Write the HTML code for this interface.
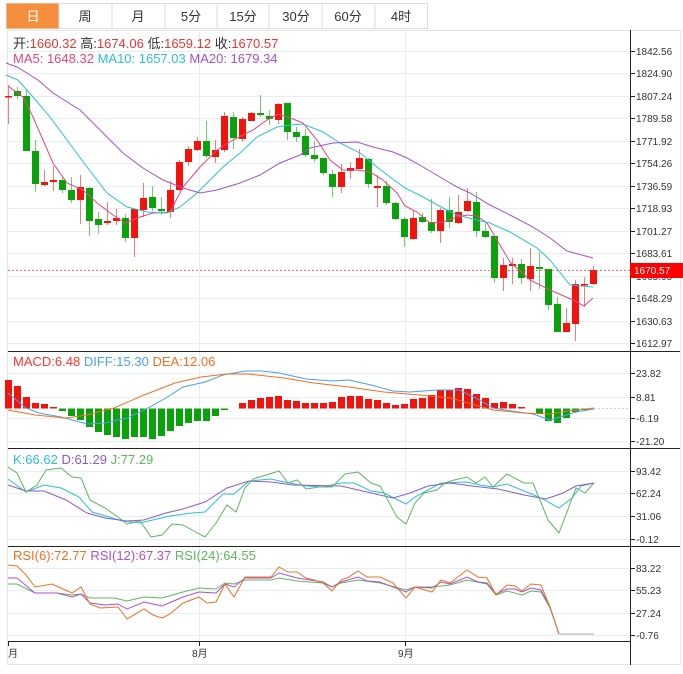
<!DOCTYPE html>
<html><head><meta charset="utf-8"><style>
html,body{margin:0;padding:0;background:#fff;width:683px;height:674px;overflow:hidden}
svg{display:block;font-family:"Liberation Sans","Noto Sans CJK SC",sans-serif}
</style></head><body>
<svg id="s" width="683" height="674" xmlns="http://www.w3.org/2000/svg">
<rect x="0" y="0" width="683" height="674" fill="#fff"/>
<!-- tabs -->
<rect x="6.5" y="3.5" width="421" height="25" fill="#fff" stroke="#ddd"/>
<rect x="6.5" y="3.5" width="52" height="25" fill="#f58f3e"/>
<g stroke="#ddd"><line x1="59" y1="3" x2="59" y2="28"/><line x1="112" y1="3" x2="112" y2="28"/><line x1="165" y1="3" x2="165" y2="28"/><line x1="217" y1="3" x2="217" y2="28"/><line x1="269" y1="3" x2="269" y2="28"/><line x1="322" y1="3" x2="322" y2="28"/><line x1="375" y1="3" x2="375" y2="28"/></g>
<g font-size="13" text-anchor="middle" fill="#333">
<text x="33" y="21" fill="#fff">日</text><text x="85" y="21">周</text><text x="138" y="21">月</text><text x="191" y="21">5分</text><text x="243" y="21">15分</text><text x="296" y="21">30分</text><text x="348" y="21">60分</text><text x="401" y="21">4时</text>
</g>
<!-- frame -->
<rect x="7.5" y="30.5" width="673" height="634" fill="none" stroke="#e4e4e4"/>
<g id="grid" stroke="#e6eef3" stroke-width="1"></g>
<line x1="630.5" y1="30" x2="630.5" y2="665" stroke="#222"/>
<g stroke="#222"><line x1="8" y1="351.5" x2="680" y2="351.5"/><line x1="8" y1="448.5" x2="680" y2="448.5"/><line x1="8" y1="546.5" x2="680" y2="546.5"/><line x1="8" y1="641.5" x2="630" y2="641.5"/></g>
<g id="labels" font-size="10" fill="#333"></g>
<g id="cand"></g>
<g id="lines" fill="none" stroke-width="1"></g>
<line x1="8" y1="270.5" x2="630" y2="270.5" stroke="#f33" stroke-dasharray="2,2" opacity="0.7"/>
<rect x="630" y="263" width="53" height="15" fill="#f00"/>
<text x="634" y="274" font-size="10" fill="#fff">1670.57</text>
<g font-size="13">
<text x="13" y="48"><tspan fill="#333">开:</tspan><tspan fill="#e33">1660.32 </tspan><tspan fill="#333">高:</tspan><tspan fill="#e33">1674.06 </tspan><tspan fill="#333">低:</tspan><tspan fill="#e33">1659.12 </tspan><tspan fill="#333">收:</tspan><tspan fill="#e33">1670.57</tspan></text>
<text x="13" y="63"><tspan fill="#e8447a">MA5: 1648.32  </tspan><tspan fill="#2bbfd6">MA10: 1657.03  </tspan><tspan fill="#a550c8">MA20: 1679.34</tspan></text>
<text x="13" y="366"><tspan fill="#f33">MACD:6.48  </tspan><tspan fill="#4a9ff0">DIFF:15.30  </tspan><tspan fill="#f07020">DEA:12.06</tspan></text>
<text x="13" y="464"><tspan fill="#2bbfd6">K:66.62  </tspan><tspan fill="#8a5ad0">D:61.29  </tspan><tspan fill="#5cb85c">J:77.29</tspan></text>
<text x="13" y="560"><tspan fill="#f07020">RSI(6):72.77  </tspan><tspan fill="#b04ed0">RSI(12):67.37  </tspan><tspan fill="#5cb85c">RSI(24):64.55</tspan></text>
</g>
<g font-size="10" fill="#333"><text x="8" y="657">月</text><text x="192" y="657">8月</text><text x="398" y="657">9月</text></g>
<g stroke="#222"><line x1="8.5" y1="641" x2="8.5" y2="646"/><line x1="199.5" y1="641" x2="199.5" y2="646"/><line x1="405.5" y1="641" x2="405.5" y2="646"/></g>
</svg>
<script>
var NS="http://www.w3.org/2000/svg";
function el(p,t,a){var e=document.createElementNS(NS,t);for(var k in a)e.setAttribute(k,a[k]);document.getElementById(p).appendChild(e);return e;}
var gl=[[51,"1842.56"],[73,"1824.90"],[96,"1807.24"],[118,"1789.58"],[141,"1771.92"],[163,"1754.26"],[186,"1736.59"],[208,"1718.93"],[231,"1701.27"],[253,"1683.61"],[276,"1665.95"],[298,"1648.29"],[321,"1630.63"],[343,"1612.97"],
[373,"23.82"],[397,"8.81"],[418,"-6.19"],[441,"-21.20"],[471,"93.42"],[493,"62.24"],[516,"31.06"],[539,"-0.12"],[568,"83.22"],[590,"55.23"],[613,"27.24"],[635,"-0.76"]];
gl.forEach(function(g){el("grid","line",{x1:8,x2:630,y1:g[0]+.5,y2:g[0]+.5});el("grid","line",{x1:630,x2:635,y1:g[0]+.5,y2:g[0]+.5,stroke:"#222"});var t=el("labels","text",{x:636,y:g[0]+4});t.textContent=g[1];});
[199.5,405.5].forEach(function(x){el("grid","line",{x1:x,x2:x,y1:30,y2:641});});
var C=[[96,96,85,124,'r'],[91,96,87,99,'g'],[96,151,90,151,'g'],[151,184,140,192,'g'],[182,185,170,186,'r'],[180,182,166,191,'r'],[180,190,176,193,'g'],[190,200,177,203,'g'],[187,200,175,224,'r'],[188,221,187,236,'g'],[219,225,212,234,'g'],[221,223,202,225,'r'],[218,221,209,225,'r'],[218,238,214,242,'g'],[209,238,209,257,'r'],[198,210,183,217,'r'],[197,208,186,211,'g'],[209,211,197,215,'g'],[190,212,181,218,'r'],[162,190,160,191,'r'],[149,162,146,166,'r'],[141,150,137,151,'r'],[141,156,121,158,'g'],[150,157,140,163,'r'],[116,150,112,152,'r'],[117,138,112,149,'g'],[119,139,117,142,'r'],[113,121,112,121,'r'],[113,115,95,117,'g'],[116,119,110,125,'g'],[104,120,103,124,'r'],[103,132,103,140,'g'],[132,137,127,142,'g'],[136,155,129,157,'g'],[155,159,141,162,'g'],[158,173,158,175,'g'],[174,187,170,197,'g'],[172,187,164,193,'r'],[168,171,162,179,'r'],[158,169,149,169,'r'],[159,184,158,188,'g'],[186,188,175,207,'r'],[186,203,181,205,'g'],[203,219,202,220,'g'],[219,237,217,247,'g'],[218,239,211,240,'r'],[217,222,213,223,'g'],[222,231,199,233,'g'],[210,231,208,243,'r'],[210,222,197,228,'g'],[212,223,195,224,'r'],[201,211,188,212,'r'],[202,231,192,237,'g'],[231,237,223,238,'g'],[236,278,236,283,'g'],[265,278,258,291,'r'],[264,266,258,284,'r'],[264,278,259,284,'g'],[266,279,248,291,'r'],[267,269,252,289,'g'],[269,305,269,310,'g'],[304,332,297,332,'g'],[323,332,308,332,'r'],[284,324,280,341,'r'],[284,285,277,307,'r'],[270,284,266,285,'r']];
C.forEach(function(c,i){var x=8.5+9*i;var col=c[4]=='r'?'#f4120c':'#0aa20a';var wc=c[4]=='r'?'#f57a78':'#6fcc6f';
el("cand","line",{x1:x,x2:x,y1:c[2],y2:c[3],stroke:wc});var h=Math.max(c[1]-c[0],1.5);el("cand","rect",{x:x-3.5,y:c[0],width:7,height:h,fill:col});
var m=[380,386,397,403,404,407,411,416,420,427,432,435,437,439,437,437,439,436,431,426,423,421,421,416,410,408,403,400,398,397,396,400,401,403,403,403,402,397,396,396,399,400,403,405,404,399,398,395,390,390,388,389,394,398,403,402,404,407,408,414,421,423,418,412,410,409][i];
var z=408.5;if(Math.abs(m-z)>0.6)el("cand","rect",{x:x-3.5,y:Math.min(m,z),width:7,height:Math.abs(m-z),fill:m<z?'#f4120c':'#0aa20a'});});
el("cand","line",{x1:594,x2:630,y1:408.5,y2:408.5,stroke:"#bde",'stroke-dasharray':"2,2"});
function pl(pts,col){el("lines","polyline",{points:pts,stroke:col});}
pl("8,86 23,97 33,117 43,140 53,163 67,183 83,190 97,203 113,215 125,223 140,217 153,213 170,212 183,187 200,167 217,150 233,140 253,130 267,120 278,114 293,119 303,123 317,140 330,160 343,170 357,170 370,172 383,180 397,193 405,206 417,212 430,223 443,222 457,217 467,215 477,216 487,223 497,240 510,262 530,280 550,290 573,300 584,306 593,298","#e8447a");
pl("6,75 18,80 33,97 50,117 67,140 87,167 107,193 127,207 147,212 167,213 180,207 197,193 210,180 223,167 240,153 257,137 277,127 290,125 303,124 323,132 340,143 360,153 377,167 390,177 405,188 423,197 443,208 457,215 477,220 490,223 510,232 537,248 550,260 570,285 593,287","#2bbfd6");
pl("6,63 17,67 38,80 53,93 80,110 100,130 123,153 143,168 163,180 183,188 200,193 217,190 240,183 260,175 280,163 300,155 310,148 333,143 357,142 373,147 393,152 407,158 423,167 440,177 457,187 470,193 490,205 510,215 533,227 550,238 567,251 593,258","#a550c8");
pl("8,393 26,408 39,413 61,417 87,424 105,423 127,418 148,408 166,398 183,387 205,382 223,375 245,371 262,371 279,373 306,379 332,381 349,380 371,385 393,391 410,392 437,390 459,390 476,398 493,408 511,411 533,414 550,420 563,416 576,412 594,409","#4a9ff0");
pl("8,410 35,415 66,418 87,415 114,408 144,395 175,383 201,377 227,374 249,374 284,378 314,383 349,387 384,392 419,395 450,398 472,404 493,410 524,413 550,414 568,411 594,408","#f07020");
pl("8,479 26,492 44,485 61,488 79,497 92,512 109,517 122,521 140,523 157,519 170,516 192,513 205,512 223,494 234,494 249,481 271,479 284,482 306,486 323,487 341,483 354,483 371,491 384,493 406,504 415,497 441,483 467,482 480,485 493,487 507,484 524,491 541,498 559,508 572,498 581,486 594,483","#2bbfd6");
pl("8,485 26,491 44,491 66,500 87,513 105,518 127,521 144,520 166,513 183,509 205,502 227,488 249,481 271,482 293,485 341,486 367,492 393,498 410,493 428,486 450,483 472,486 498,489 524,495 546,499 563,493 576,486 594,483","#8a5ad0");
pl("8,467 17,473 26,492 37,485 46,470 61,468 72,477 81,478 90,500 105,508 118,517 127,524 140,521 151,537 162,535 172,524 183,525 192,530 205,537 216,523 227,505 236,512 245,488 253,479 279,471 288,483 297,480 306,489 319,487 332,487 345,474 358,472 371,483 380,486 397,517 406,524 415,503 424,493 437,490 445,483 454,480 467,477 476,483 485,477 493,487 507,474 524,483 533,483 548,520 559,533 576,488 585,493 594,483","#5cb85c");
pl("8,584 17,584 35,593 57,593 72,595 81,594 90,598 114,598 127,601 144,597 162,598 183,592 199,588 216,589 225,583 234,584 245,580 271,580 279,578 297,581 323,583 332,587 341,583 358,580 380,583 406,590 415,587 432,587 450,585 467,580 487,584 496,595 507,591 522,595 531,591 541,592 550,608 559,634","#5cb85c");
pl("8,578 17,578 35,593 57,593 72,597 81,594 90,603 105,605 118,604 127,609 144,602 162,606 183,597 199,592 216,593 225,584 234,587 245,578 271,578 279,573 297,578 323,582 332,587 341,582 358,577 367,581 380,582 406,592 415,587 432,588 441,582 450,584 467,577 478,582 487,583 496,594 507,589 515,589 522,592 531,588 541,590 550,607 559,634","#b04ed0");
pl("8,565 17,566 26,575 35,587 52,584 72,593 81,587 90,604 100,608 118,607 127,619 144,609 153,615 162,618 170,614 183,603 199,597 207,603 216,602 225,584 234,597 245,577 271,577 279,567 288,572 297,572 306,578 314,580 323,583 332,591 341,580 349,577 358,571 367,577 380,577 393,583 406,598 415,587 432,592 441,580 450,583 467,570 478,577 487,578 496,595 507,585 515,586 522,591 531,584 541,585 550,607 559,634","#f07020");
pl("559,634 594,634","#aaa");
</script>
</body></html>
